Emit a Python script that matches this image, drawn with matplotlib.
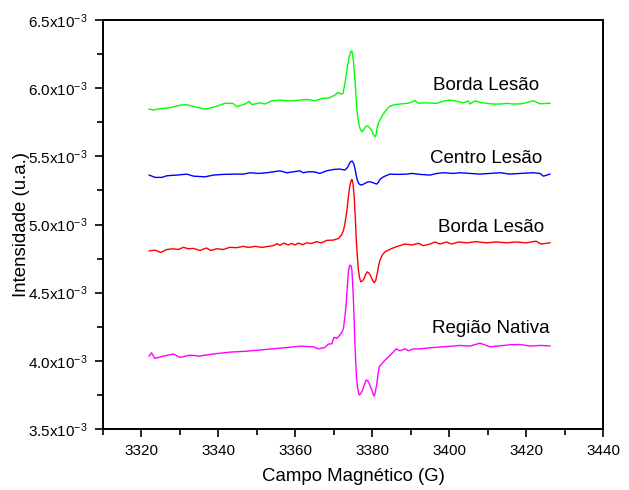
import matplotlib
matplotlib.use("Agg")
import matplotlib.pyplot as plt
from matplotlib.ticker import MultipleLocator, FuncFormatter

plt.rcParams['font.family'] = ['Liberation Sans', 'DejaVu Sans']
plt.rcParams['mathtext.fontset'] = 'custom'
plt.rcParams['mathtext.rm'] = 'Liberation Sans'
plt.rcParams['mathtext.it'] = 'Liberation Sans'

# EPR spectra, intensity in units of 1e-3 (u.a.) against magnetic field (G)
campo_borda_sup = [3322.0, 3323.1, 3324.8, 3327.4, 3330.0, 3331.6, 3333.9, 3336.5, 3339.1,
                   3341.7, 3343.8, 3344.8, 3346.9, 3348.0, 3348.7, 3350.8, 3352.1, 3353.9,
                   3356.0, 3358.6, 3361.2, 3363.0, 3365.1, 3366.9, 3368.8, 3370.3, 3371.1,
                   3371.8, 3372.4, 3372.9, 3373.5, 3374.0, 3374.4, 3374.7, 3375.1, 3375.5,
                   3375.8, 3376.1, 3376.5, 3376.8, 3377.3, 3377.7, 3378.1, 3378.5, 3379.0,
                   3379.4, 3379.9, 3380.3, 3380.7, 3381.0, 3381.3, 3381.6, 3382.0, 3382.6,
                   3383.3, 3384.0, 3384.6, 3385.9, 3387.2, 3388.9, 3389.8, 3391.1, 3392.0,
                   3393.3, 3394.6, 3396.8, 3398.5, 3400.2, 3401.5, 3403.7, 3405.0, 3405.4,
                   3406.7, 3408.0, 3409.8, 3411.5, 3413.2, 3415.0, 3416.7, 3418.9, 3421.9,
                   3423.6, 3426.2]
borda_sup = [5.847, 5.840, 5.850, 5.857, 5.876, 5.880, 5.864, 5.847, 5.864,
             5.889, 5.889, 5.864, 5.884, 5.903, 5.880, 5.893, 5.884, 5.908,
             5.913, 5.906, 5.913, 5.918, 5.908, 5.925, 5.930, 5.950, 5.970,
             5.958, 5.962, 6.036, 6.150, 6.230, 6.268, 6.275, 6.200, 6.060,
             5.930, 5.815, 5.740, 5.705, 5.680, 5.690, 5.713, 5.722, 5.722,
             5.708, 5.688, 5.660, 5.644, 5.660, 5.717, 5.745, 5.766, 5.800,
             5.827, 5.852, 5.869, 5.880, 5.884, 5.889, 5.893, 5.911, 5.889,
             5.893, 5.892, 5.889, 5.906, 5.913, 5.908, 5.893, 5.906, 5.884,
             5.908, 5.896, 5.889, 5.884, 5.884, 5.889, 5.884, 5.886, 5.908,
             5.886, 5.890]

campo_centro = [3322.0, 3323.5, 3325.3, 3326.6, 3329.2, 3331.8, 3333.5, 3336.5, 3338.7,
                3341.3, 3343.9, 3346.5, 3348.2, 3350.4, 3352.6, 3354.3, 3356.0, 3357.8,
                3359.5, 3361.2, 3362.0, 3363.4, 3364.8, 3366.4, 3368.1, 3369.9, 3371.6,
                3372.9, 3373.6, 3374.0, 3374.4, 3374.8, 3375.2, 3375.5, 3375.8, 3376.1,
                3376.5, 3377.0, 3377.5, 3378.1, 3378.8, 3379.4, 3380.3, 3380.8, 3381.2,
                3381.6, 3382.0, 3382.6, 3383.3, 3384.6, 3386.8, 3389.0, 3390.3, 3392.4,
                3395.0, 3396.8, 3398.5, 3401.1, 3402.8, 3405.4, 3408.0, 3410.6, 3413.2,
                3415.8, 3418.4, 3421.9, 3423.6, 3424.5, 3426.2]
centro = [5.363, 5.346, 5.346, 5.358, 5.363, 5.370, 5.355, 5.350, 5.363,
          5.368, 5.370, 5.370, 5.380, 5.375, 5.380, 5.387, 5.394, 5.380,
          5.387, 5.394, 5.380, 5.387, 5.387, 5.375, 5.394, 5.404, 5.407,
          5.400, 5.420, 5.444, 5.462, 5.466, 5.445, 5.412, 5.365, 5.326,
          5.300, 5.290, 5.293, 5.302, 5.312, 5.314, 5.306, 5.300, 5.297,
          5.310, 5.331, 5.345, 5.355, 5.370, 5.368, 5.370, 5.375, 5.368,
          5.363, 5.375, 5.380, 5.375, 5.380, 5.375, 5.370, 5.375, 5.380,
          5.370, 5.375, 5.380, 5.375, 5.355, 5.370]

campo_borda_inf = [3322.0, 3323.5, 3325.0, 3326.6, 3328.3, 3329.6, 3330.9, 3332.2, 3333.5,
                   3335.2, 3336.9, 3338.0, 3339.6, 3341.3, 3343.0, 3344.7, 3346.5, 3347.8,
                   3349.6, 3351.3, 3353.0, 3354.3, 3355.2, 3356.0, 3357.0, 3358.2, 3359.0,
                   3359.9, 3360.8, 3362.0, 3362.9, 3364.2, 3365.5, 3366.8, 3368.2, 3369.9,
                   3371.2, 3372.0, 3372.5, 3372.9, 3373.4, 3373.8, 3374.2, 3374.5, 3374.7,
                   3375.0, 3375.3, 3375.6, 3375.8, 3376.1, 3376.4, 3376.7, 3377.0, 3377.4,
                   3377.9, 3378.3, 3378.7, 3379.1, 3379.6, 3380.0, 3380.5, 3380.9, 3381.3,
                   3381.6, 3382.0, 3382.6, 3383.3, 3385.1, 3386.8, 3388.5, 3390.3, 3392.0,
                   3393.3, 3395.0, 3396.3, 3397.6, 3399.3, 3400.6, 3402.4, 3404.5, 3407.1,
                   3409.7, 3412.3, 3414.9, 3417.5, 3420.0, 3422.6, 3423.9, 3426.2]
borda_inf = [4.807, 4.812, 4.795, 4.817, 4.822, 4.817, 4.833, 4.822, 4.825,
             4.810, 4.828, 4.810, 4.822, 4.817, 4.833, 4.830, 4.840, 4.832,
             4.840, 4.832, 4.840, 4.845, 4.860, 4.847, 4.864, 4.850, 4.862,
             4.850, 4.864, 4.852, 4.866, 4.861, 4.874, 4.866, 4.884, 4.886,
             4.898, 4.923, 4.955, 5.008, 5.100, 5.204, 5.290, 5.320, 5.331,
             5.300, 5.204, 5.050, 4.910, 4.780, 4.666, 4.610, 4.580, 4.585,
             4.605, 4.635, 4.653, 4.645, 4.622, 4.595, 4.573, 4.590, 4.642,
             4.690, 4.739, 4.775, 4.800, 4.825, 4.842, 4.857, 4.850, 4.862,
             4.845, 4.857, 4.872, 4.857, 4.872, 4.857, 4.872, 4.866, 4.874,
             4.866, 4.872, 4.866, 4.872, 4.866, 4.878, 4.857, 4.866]

campo_nativa = [3322.0, 3322.6, 3323.5, 3325.7, 3328.3, 3330.0, 3332.6, 3335.0, 3338.5,
                3343.0, 3347.0, 3351.0, 3354.8, 3358.6, 3361.2, 3364.7, 3366.0, 3367.7,
                3368.6, 3369.5, 3370.0, 3370.8, 3371.6, 3372.1, 3372.5, 3372.9, 3373.2,
                3373.4, 3373.6, 3373.8, 3374.0, 3374.2, 3374.5, 3374.7, 3374.9, 3375.1,
                3375.3, 3375.5, 3375.7, 3375.9, 3376.2, 3376.6, 3377.0, 3377.5, 3378.0,
                3378.4, 3378.8, 3379.2, 3379.6, 3379.9, 3380.2, 3380.5, 3380.8, 3381.2,
                3381.5, 3381.8, 3382.9, 3384.2, 3385.5, 3386.2, 3387.2, 3388.5, 3389.4,
                3390.7, 3392.2, 3395.0, 3398.5, 3402.8, 3405.4, 3408.0, 3410.6, 3413.2,
                3415.8, 3418.4, 3421.0, 3423.6, 3426.2]
nativa = [4.035, 4.059, 4.018, 4.035, 4.050, 4.025, 4.042, 4.035, 4.050,
          4.064, 4.070, 4.080, 4.090, 4.100, 4.108, 4.103, 4.088, 4.098,
          4.123, 4.125, 4.172, 4.165, 4.190, 4.210, 4.238, 4.323, 4.410,
          4.495, 4.580, 4.653, 4.685, 4.702, 4.695, 4.666, 4.570, 4.446,
          4.290, 4.128, 3.990, 3.883, 3.800, 3.749, 3.760, 3.786, 3.830,
          3.859, 3.855, 3.835, 3.805, 3.786, 3.760, 3.741, 3.770, 3.835,
          3.900, 3.956, 3.993, 4.030, 4.066, 4.088, 4.074, 4.088, 4.074,
          4.088, 4.087, 4.096, 4.103, 4.113, 4.108, 4.130, 4.103, 4.110,
          4.118, 4.120, 4.108, 4.113, 4.110]

rotulos = ['Borda Lesão', 'Centro Lesão', 'Borda Lesão', 'Região Nativa']
rotulo_x = [3423.4, 3424.1, 3424.7, 3426.0]
rotulo_y = [6.023, 5.484, 4.978, 4.24]

fig = plt.figure(figsize=(6.29, 4.90), dpi=100)
ax = fig.add_axes([0.1638, 0.1245, 0.7949, 0.8345])

ax.plot(campo_borda_sup, borda_sup, color='#00ff00', lw=1.0)
ax.plot(campo_centro, centro, color='#0000ff', lw=1.0)
ax.plot(campo_borda_inf, borda_inf, color='#ff0000', lw=1.0)
ax.plot(campo_nativa, nativa, color='#ff00ff', lw=1.0)

# labels sit right-aligned above the end of each spectrum
for texto, xx, yy in zip(rotulos, rotulo_x, rotulo_y):
    ax.text(xx, yy, texto, ha='right', va='center', fontsize=13.5)

ax.set_xlim(3310, 3440)
ax.set_ylim(3.5, 6.5)
ax.xaxis.set_major_locator(MultipleLocator(20))
ax.xaxis.set_minor_locator(MultipleLocator(10))
ax.yaxis.set_major_locator(MultipleLocator(0.5))
ax.yaxis.set_minor_locator(MultipleLocator(0.25))
ax.yaxis.set_major_formatter(FuncFormatter(lambda v, p: f'{v:.1f}x10$^{{-3}}$'))

ax.tick_params(which='both', direction='out', width=1.2, labelsize=11)
ax.tick_params(which='major', length=6, pad=5)
ax.tick_params(which='minor', length=4)
for s in ax.spines.values():
    s.set_linewidth(1.4)

ax.set_xlabel('Campo Magnético (G)', fontsize=13.4, labelpad=7)
ax.set_ylabel('Intensidade (u.a.)', fontsize=13.4)
ax.yaxis.set_label_coords(-0.146, 0.5)

fig.savefig('out.png', dpi=100)
